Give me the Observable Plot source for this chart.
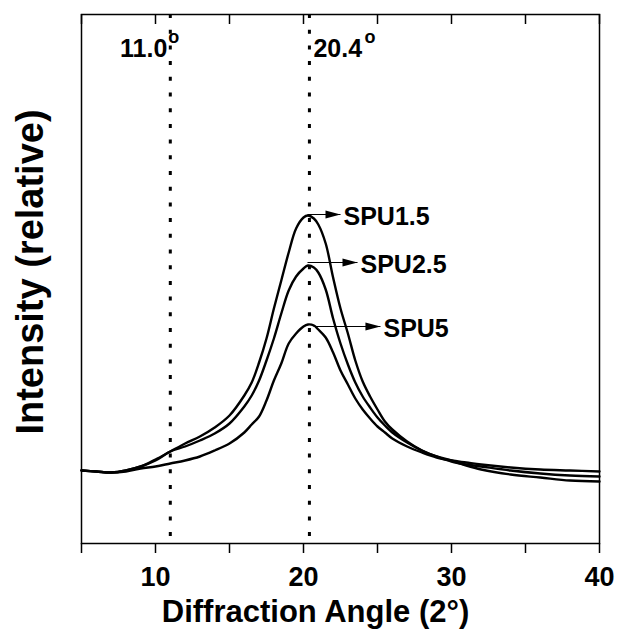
<!DOCTYPE html>
<html><head><meta charset="utf-8">
<script src="https://cdn.jsdelivr.net/npm/d3@7"></script>
<script src="https://cdn.jsdelivr.net/npm/@observablehq/plot@0.6"></script>
<style>body{margin:0;background:#fff} #chart{width:618px;height:637px}</style>
</head><body><div id="chart"></div>
<script>
// Diffraction angle (2θ, degrees) sampling positions
const angles = [5,6,7,8,9,10,11,12,13,14,15,16,16.5,17,17.5,18,18.5,19,19.5,20,20.3,20.7,21,21.5,22,22.5,23,23.5,24,24.5,25,25.5,26,27,28,29,30,31,32,34,36,38,40];
// Intensities (relative units)
const spu15 = [73,72,71,73,77,84,92,100,107,116,128,148,161,181,205,235,263,291,315,326,328,325,319,300,266,235,210,183,162,147,134,122,114,102,93,87,83,78,74,69,66,63,62];
const spu25 = [73,72,71,73,77,83,92,97,103,110,120,137,148,163,183,205,230,253,267,275,278,276,271,254,225,200,179,161,147,136,126,118,111,101,93,87,82,79,77,73,70,68,67];
const spu5  = [73,72,71,72,75,77,80,83,87,93,100,111,119,127,143,163,180,200,210,217,219,218,214,206,191,173,159,145,134,125,117,111,105,97,91,86,83,81,79,76,74,73,72];
const seriesNames = ["SPU1.5","SPU2.5","SPU5"];
const seriesValues = [spu15, spu25, spu5];
// Axis ticks
const xTicks = [5,10,15,20,25,30,35,40];
const xTickLabels = ["","10","","20","","30","","40"];
// Reference peak positions
const peakAngles = [11.0, 20.4];
const peakLabels = ["11.0", "20.4"];
// Series label arrows: start angle, tip angle, level
const arrowStart = [20.27, 20.27, 20.68];
const arrowEnd = [22.5, 23.65, 25.2];
const arrowLevel = [329, 281, 217];

const rows = seriesNames.flatMap((name, s) => angles.map((a, i) => ({series: name, angle: a, intensity: seriesValues[s][i]})));
const labels = seriesNames.map((name, i) => ({name, x1: arrowStart[i], x2: arrowEnd[i], y: arrowLevel[i]}));
const tickLabelMap = new Map(xTicks.map((t, i) => [t, xTickLabels[i]]));
const arrowHead = {draw(ctx) { ctx.moveTo(0, 0); ctx.lineTo(-15, -4); ctx.lineTo(-15, 4); ctx.closePath(); }};

const chart = Plot.plot({
  width: 618, height: 637,
  marginLeft: 81, marginRight: 19, marginTop: 14, marginBottom: 94,
  style: {fontFamily: "'Liberation Sans', Arial, sans-serif", fontWeight: "bold", color: "black", background: "white"},
  x: {domain: [5, 40]},
  y: {domain: [0, 529], axis: null},
  marks: [
    Plot.ruleX(peakAngles, {x: d => d, stroke: "black", strokeWidth: 3, strokeDasharray: "4,11.7", insetBottom: 6}),
    Plot.line(rows, {x: "angle", y: "intensity", z: "series", stroke: "black", strokeWidth: 2.4, curve: "catmull-rom"}),
    Plot.link(labels, {x1: "x1", x2: "x2", y1: "y", y2: "y", stroke: "black", strokeWidth: 1.2}),
    Plot.dot(labels, {x: "x2", y: "y", symbol: arrowHead, fill: "black", stroke: "none"}),
    Plot.text(labels, {x: "x2", y: "y", text: "name", textAnchor: "start", dx: 3, dy: 2, fontSize: 25, lineAnchor: "middle"}),
    Plot.text([peakLabels[0]], {x: peakAngles[0], frameAnchor: "top", text: d => d, textAnchor: "end", dx: -3, dy: 34, fontSize: 25, lineAnchor: "middle"}),
    Plot.text(["o"], {x: peakAngles[0], frameAnchor: "top", text: d => d, textAnchor: "start", dx: -2, dy: 23, fontSize: 18, lineAnchor: "middle"}),
    Plot.text([peakLabels[1]], {x: peakAngles[1], frameAnchor: "top", text: d => d, textAnchor: "start", dx: 4, dy: 34, fontSize: 25, lineAnchor: "middle"}),
    Plot.text(["o"], {x: peakAngles[1], frameAnchor: "top", text: d => d, textAnchor: "start", dx: 55, dy: 23, fontSize: 18, lineAnchor: "middle"}),
    Plot.frame({stroke: "black", strokeWidth: 1.5}),
    Plot.ruleX(xTicks, {x: d => d, stroke: "black", strokeWidth: 1.5, insetBottom: 519}),
    Plot.axisX(xTicks, {anchor: "bottom", tickSize: 10, tickPadding: 13, fontSize: 27, strokeWidth: 1.5, tickFormat: d => tickLabelMap.get(d), label: null}),
    Plot.text(["Intensity (relative)"], {frameAnchor: "left", textAnchor: "middle", rotate: -90, dx: -51, dy: -7, fontSize: 38, lineAnchor: "middle"}),
    Plot.text(["Diffraction Angle (2°)"], {frameAnchor: "bottom", textAnchor: "middle", dx: -25, dy: 69, fontSize: 31, lineAnchor: "middle"})
  ]
});
document.getElementById("chart").appendChild(chart);
</script>
</body></html>
